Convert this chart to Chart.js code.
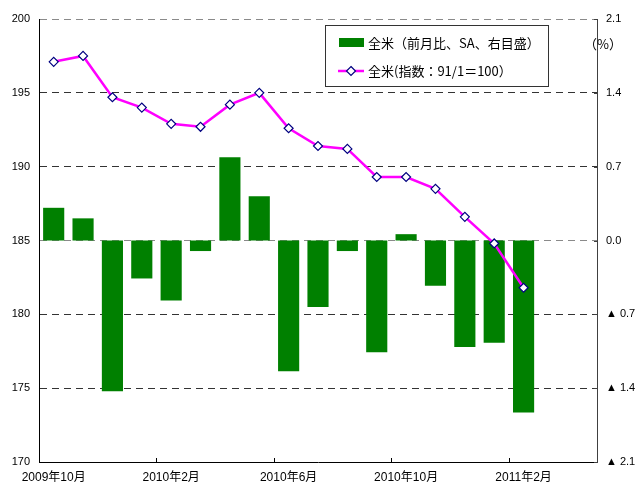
<!DOCTYPE html>
<html>
<head>
<meta charset="utf-8">
<script src="https://cdn.jsdelivr.net/npm/chart.js@4"></script>
<style>
  html, body { margin: 0; padding: 0; background: #fff; }
  #wrap { width: 638px; height: 484px; position: relative; }
</style>
</head>
<body>
<div id="wrap"><canvas id="c" width="638" height="484"></canvas></div>
<script>
// ---- data ----
const categories = [
  '2009年10月','2009年11月','2009年12月',
  '2010年1月','2010年2月','2010年3月','2010年4月','2010年5月','2010年6月',
  '2010年7月','2010年8月','2010年9月','2010年10月','2010年11月','2010年12月',
  '2011年1月','2011年2月','2011年3月','2011年4月'
];
const barLabel = '全米（前月比、SA、右目盛）';
const lineLabel = '全米(指数：91/1＝100）';
const momChange = [0.31, 0.21, -1.43, -0.36, -0.57, -0.10, 0.79, 0.42, -1.24,
                   -0.63, -0.10, -1.06, 0.06, -0.43, -1.01, -0.97, -1.63];
const indexLevel = [197.1, 197.5, 194.7, 194.0, 192.9, 192.7, 194.2, 195.0, 192.6,
                    191.4, 191.2, 189.3, 189.3, 188.5, 186.6, 184.8, 181.8];
const leftTicks = [170, 200, 5];
const rightTicks = [-2.1, 2.1, 0.7];
const labelEvery = 4;

const FONT = "'Liberation Sans', 'Noto Sans CJK JP', sans-serif";
const JFONT = "'Noto Sans CJK JP', 'Liberation Sans', sans-serif";

const extras = {
  id: 'extras',
  afterDraw(chart) {
    const {ctx, chartArea: a, scales: {x, y1}} = chart;
    ctx.save();
    // inward tick marks on x axis
    ctx.strokeStyle = '#000'; ctx.lineWidth = 1;
    for (let i = 0; i < categories.length; i += labelEvery) {
      const px = Math.round(x.getPixelForValue(i - 0.5)) + 0.5;
      ctx.beginPath(); ctx.moveTo(px, a.bottom); ctx.lineTo(px, a.bottom - 4); ctx.stroke();
    }
    // inward tick marks on right axis
    ctx.strokeStyle = '#404040';
    y1.ticks.forEach(t => {
      const py = Math.round(y1.getPixelForValue(t.value)) + 0.5;
      ctx.beginPath(); ctx.moveTo(a.right, py); ctx.lineTo(a.right - 3, py); ctx.stroke();
    });
    // unit label
    ctx.fillStyle = '#000';
    ctx.font = '13px ' + JFONT;
    ctx.textAlign = 'center'; ctx.textBaseline = 'middle';
    ctx.fillText('（%）', a.right + 6, a.top + 25);

    // legend box
    const lx = a.left + 286, ly = a.top + 6, lw = 223, lh = 61;
    ctx.fillStyle = '#fff';
    ctx.fillRect(lx, ly, lw, lh);
    ctx.strokeStyle = '#333'; ctx.lineWidth = 1;
    ctx.strokeRect(lx + 0.5, ly + 0.5, lw, lh);
    // bar key
    ctx.fillStyle = '#008000';
    ctx.fillRect(lx + 14, ly + 13, 25, 9);
    ctx.fillStyle = '#000';
    ctx.font = '13px ' + JFONT;
    ctx.textAlign = 'left'; ctx.textBaseline = 'middle';
    ctx.fillText(barLabel, lx + 43, ly + 18);
    // line key
    const ky = ly + 46;
    ctx.strokeStyle = '#FF00FF'; ctx.lineWidth = 2.5;
    ctx.beginPath(); ctx.moveTo(lx + 13, ky); ctx.lineTo(lx + 39, ky); ctx.stroke();
    ctx.fillStyle = '#fff'; ctx.strokeStyle = '#000080'; ctx.lineWidth = 1.2;
    const cx = lx + 26, r = 4.5;
    ctx.beginPath(); ctx.moveTo(cx, ky - r); ctx.lineTo(cx + r, ky); ctx.lineTo(cx, ky + r); ctx.lineTo(cx - r, ky); ctx.closePath();
    ctx.fill(); ctx.stroke();
    ctx.fillStyle = '#000';
    ctx.fillText(lineLabel, lx + 43, ky);
    ctx.restore();
  }
};

new Chart(document.getElementById('c'), {
  data: {
    labels: categories,
    datasets: [
      {
        type: 'line', label: lineLabel, data: indexLevel, yAxisID: 'y', order: 0,
        borderColor: '#FF00FF', borderWidth: 2.5, tension: 0,
        pointStyle: 'rectRot', pointRadius: 4.5, pointBackgroundColor: '#fff',
        pointBorderColor: '#000080', pointBorderWidth: 1.2
      },
      {
        type: 'bar', label: barLabel, data: momChange, yAxisID: 'y1', order: 1,
        backgroundColor: '#008000', barPercentage: 0.72, categoryPercentage: 1.0
      }
    ]
  },
  options: {
    responsive: false, animation: false,
    layout: { padding: { top: 19, left: 0, right: 0, bottom: 0 } },
    plugins: { legend: { display: false }, tooltip: { enabled: false } },
    scales: {
      x: {
        offset: true,
        grid: { display: false, drawTicks: false },
        border: { display: true, color: '#000', width: 1 },
        ticks: {
          autoSkip: false, maxRotation: 0, padding: 8, color: '#000',
          font: { family: FONT, size: 12 },
          callback: (v, i) => (i % labelEvery === 0 ? categories[i] : '')
        },
        afterFit: s => { s.height = 22; }
      },
      y: {
        position: 'left', min: leftTicks[0], max: leftTicks[1],
        ticks: { stepSize: leftTicks[2], padding: 9, color: '#000', font: { family: FONT, size: 11 } },
        grid: {
          drawTicks: false, lineWidth: 1,
          color: c => (c.tick.value === 170 ? 'rgba(0,0,0,0)' :
                      (c.tick.value === 185 || c.tick.value === 200) ? '#8a8a8a' : '#333')
        },
        border: { display: true, color: '#000', width: 1, dash: [7, 5] },
        afterFit: s => { s.width = 39; }
      },
      y1: {
        position: 'right', min: rightTicks[0], max: rightTicks[1],
        ticks: {
          stepSize: rightTicks[2], padding: 9, color: '#000', font: { family: FONT, size: 11 },
          callback: v => {
            const n = Math.round(v * 10) / 10;
            return n < 0 ? '▲ ' + Math.abs(n).toFixed(1) : n.toFixed(1);
          }
        },
        grid: { display: false, drawTicks: false },
        border: { display: true, color: '#404040', width: 1 },
        afterFit: s => { s.width = 41; }
      }
    }
  },
  plugins: [extras]
});
</script>
</body>
</html>
